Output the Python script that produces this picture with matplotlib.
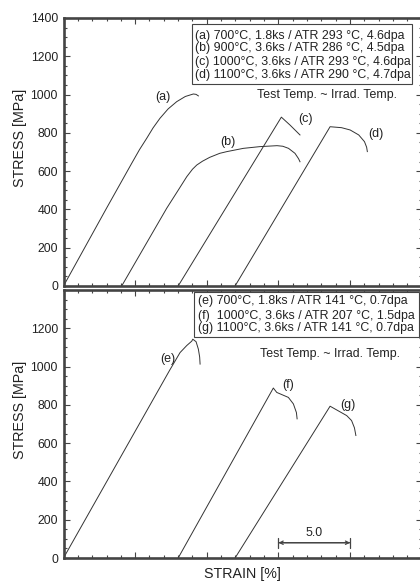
import matplotlib
matplotlib.use("Agg")
import matplotlib.pyplot as plt
from matplotlib.patches import Rectangle
from matplotlib.ticker import MultipleLocator

plt.rcParams["font.family"] = ["Liberation Sans", "DejaVu Sans"]

# strain [%], stress [MPa]
a_x = [0.0, 3.0, 4.76, 5.3, 5.81, 6.25, 6.73, 7.3, 7.9, 8.5, 9.06, 9.25, 9.41]
a_y = [0, 406, 641, 712, 772, 826, 876, 925, 963, 990, 1003, 1001, 993]
b_x = [4.06, 7.2, 8.0, 8.6, 9.0, 9.3, 9.7, 10.2, 10.9, 11.4, 12.55, 13.7, 14.9,
       15.3, 15.7, 16.15, 16.4, 16.5]
b_y = [0, 406, 500, 571, 610, 632, 652, 672, 693, 702, 719, 728, 733,
       730, 719, 693, 665, 649]
c_x = [8.0, 15.2, 15.8, 16.5]
c_y = [0, 882, 841, 789]
d_x = [11.97, 18.6, 19.4, 20.0, 20.6, 21.0, 21.15, 21.2]
d_y = [0, 832, 827, 815, 789, 754, 725, 702]

e_x = [0.0, 7.4, 8.13, 8.6, 8.95, 9.02, 9.25, 9.41, 9.5, 9.53]
e_y = [0, 980, 1073, 1110, 1133, 1143, 1130, 1091, 1050, 1013]
f_x = [8.0, 14.64, 14.88, 15.69, 16.04, 16.25, 16.3]
f_y = [0, 888, 865, 839, 805, 760, 727]
g_x = [11.97, 18.6, 19.76, 20.1, 20.3, 20.4]
g_y = [0, 793, 744, 718, 680, 640]

top_curves = [(a_x, a_y, "(a)", 6.94, 987), (b_x, b_y, "(b)", 11.48, 752),
              (c_x, c_y, "(c)", 16.9, 872), (d_x, d_y, "(d)", 21.8, 794)]
bot_curves = [(e_x, e_y, "(e)", 7.29, 1042), (f_x, f_y, "(f)", 15.65, 905),
              (g_x, g_y, "(g)", 19.85, 801)]

top_legend = ["(a) 700°C, 1.8ks / ATR 293 °C, 4.6dpa",
              "(b) 900°C, 3.6ks / ATR 286 °C, 4.5dpa",
              "(c) 1000°C, 3.6ks / ATR 293 °C, 4.6dpa",
              "(d) 1100°C, 3.6ks / ATR 290 °C, 4.7dpa"]
bot_legend = ["(e) 700°C, 1.8ks / ATR 141 °C, 0.7dpa",
              "(f)  1000°C, 3.6ks / ATR 207 °C, 1.5dpa",
              "(g) 1100°C, 3.6ks / ATR 141 °C, 0.7dpa"]
note = "Test Temp. ~ Irrad. Temp."

scale_start = 15.0
scale_len = 5.0
scale_y = 80

SPINE = "#444444"
INK = "#222222"

fig = plt.figure(figsize=(4.2, 5.82), dpi=100)
ax1 = fig.add_axes([0.1512, 0.5086, 0.8531, 0.4605])
ax2 = fig.add_axes([0.1512, 0.0412, 0.8531, 0.4605])


def style_axes(ax, yticks):
    ax.set_xlim(0, 25)
    ax.set_ylim(0, 1400)
    ax.xaxis.set_major_locator(MultipleLocator(5))
    ax.xaxis.set_minor_locator(MultipleLocator(1))
    ax.yaxis.set_minor_locator(MultipleLocator(50))
    ax.set_yticks(yticks)
    ax.set_xticklabels([])
    ax.tick_params(which="both", direction="in", top=True, right=True,
                   color=SPINE, width=0.8, labelsize=8.8, labelcolor=INK, pad=4)
    ax.tick_params(which="major", length=4)
    ax.tick_params(which="minor", length=2.2)
    for s in ax.spines.values():
        s.set_linewidth(1.9)
        s.set_color(SPINE)
    ax.set_ylabel("STRESS [MPa]", fontsize=10.3, color=INK)
    ax.yaxis.set_label_coords(-0.1005, 0.553)


style_axes(ax1, range(0, 1401, 200))
style_axes(ax2, range(0, 1201, 200))

for ax, curves in [(ax1, top_curves), (ax2, bot_curves)]:
    for xs, ys, lab, lx, ly in curves:
        ax.plot(xs, ys, color="#333333", lw=0.7)
        ax.text(lx, ly, lab, fontsize=9, color=INK, ha="center", va="center")


def legend_box(ax, lines, x0, x1, y0, y1, tx, ty):
    ax.add_patch(Rectangle((x0, y0), x1 - x0, y1 - y0, transform=ax.transAxes,
                           fill=True, fc="white", ec=SPINE, lw=0.8, zorder=3))
    for t, yy in zip(lines, ty):
        ax.text(tx, yy, t, transform=ax.transAxes, fontsize=8.9, color=INK,
                ha="left", va="center", zorder=4)


legend_box(ax1, top_legend, 0.3578, 0.9735, 0.7526, 0.9765, 0.3670,
           [0.9340, 0.8869, 0.8358, 0.7873])
legend_box(ax2, bot_legend, 0.3642, 0.9922, 0.8235, 0.9925, 0.3745,
           [0.9590, 0.9041, 0.8571])
ax1.text(0.9316, 0.7127, note, transform=ax1.transAxes, fontsize=8.9,
         color=INK, ha="right", va="center")
ax2.text(0.9392, 0.7612, note, transform=ax2.transAxes, fontsize=8.9,
         color=INK, ha="right", va="center")

# 5 % scale bar
ax2.annotate("", xy=(scale_start, scale_y), xytext=(scale_start + scale_len, scale_y),
             arrowprops=dict(arrowstyle="<->", color=SPINE, lw=0.9,
                             shrinkA=0, shrinkB=0, mutation_scale=6))
ax2.annotate("", xy=(scale_start, scale_y), xytext=(scale_start + scale_len, scale_y),
             arrowprops=dict(arrowstyle="|-|,widthA=0.35,widthB=0.35", color=SPINE,
                             lw=0.9, shrinkA=0, shrinkB=0))
ax2.text(scale_start + scale_len / 2, scale_y + 18, "%.1f" % scale_len,
         fontsize=8.9, color=INK, ha="center", va="bottom")

ax2.set_xlabel("STRAIN [%]", fontsize=10.3, color=INK)
ax2.xaxis.set_label_coords(0.5, -0.034)

fig.savefig("out.png", dpi=100)
plt.close(fig)
